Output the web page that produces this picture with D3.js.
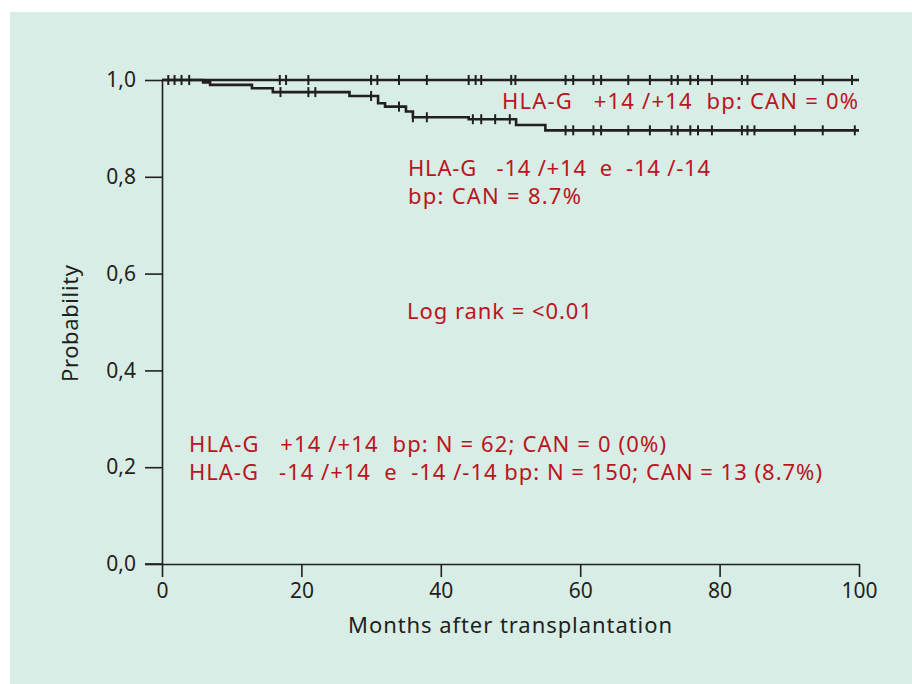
<!DOCTYPE html>
<html>
<head>
<meta charset="utf-8">
<script src="https://cdn.jsdelivr.net/npm/d3@7"></script>
<style>
  body { margin: 0; background: #fff; }
  text { font-family: "Noto Sans", "Open Sans", sans-serif; }
</style>
</head>
<body>
<svg width="912" height="684"></svg>
<script>
// group +14/+14: no events, censor marks (months)
const topSteps = [[0, 1], [100, 1]];
const topCensor = [0.9, 1.8, 2.8, 3.9, 16.9, 17.8, 21, 30, 30.9, 34, 38, 44, 45, 45.8, 50.1, 50.7,
  57.9, 59, 61.9, 63, 66.9, 70, 73.1, 74, 75.8, 76.9, 78.9, 83.2, 84, 90.8, 94.8, 99];

// group -14/+14 e -14/-14: step times and survival
const lowTimes = [0, 5.9, 6.9, 12.9, 15.9, 26.9, 31, 32, 35, 36, 44, 50.8, 55];
const lowSurv  = [1, 0.995, 0.990, 0.983, 0.975, 0.967, 0.952, 0.945, 0.935, 0.923, 0.919, 0.907, 0.896];
const lowCensor = [17, 21, 22, 30, 34, 36, 38, 44.6, 45.8, 47.8, 49.9, 57.9, 59, 61.9, 63, 66.9, 70,
  73.1, 74, 75.8, 76.9, 78.9, 83.2, 84, 85, 90.8, 94.8, 99.4];

const xTicks = [0, 20, 40, 60, 80, 100];
const yTicks = [0, 0.2, 0.4, 0.6, 0.8, 1.0];

const red = '#bb1420', ink = '#231f20';

const svg = d3.select('svg');
svg.append('rect').attr('x', 10).attr('y', 12).attr('width', 902).attr('height', 672)
  .attr('fill', '#d8ede5');

const x = d3.scaleLinear().domain([0, 100]).range([162, 859]);
const y = d3.scaleLinear().domain([0, 1]).range([564, 80]);

// axes
const xAxis = svg.append('g').attr('transform', 'translate(0,564)')
  .call(d3.axisBottom(x).tickValues(xTicks).tickSize(13).tickPadding(6).tickSizeOuter(0));
const yAxis = svg.append('g').attr('transform', 'translate(162,0)')
  .call(d3.axisLeft(y).tickValues(yTicks).tickSize(17).tickPadding(9).tickSizeOuter(0)
    .tickFormat(d => d3.format('.1f')(d).replace('.', ',')));
[xAxis, yAxis].forEach(a => {
  a.select('.domain').attr('stroke', ink).attr('stroke-width', 1.6);
  a.selectAll('.tick line').attr('stroke', ink).attr('stroke-width', 1.6);
  a.selectAll('.tick text').attr('fill', ink).style('font-size', '21px')
    .style('font-family', '"Noto Sans", sans-serif');
});
// extend x axis line under the 0,0 tick
svg.append('line').attr('x1', 145).attr('x2', 162).attr('y1', 564).attr('y2', 564)
  .attr('stroke', ink).attr('stroke-width', 1.6);

svg.append('text').attr('x', 348).attr('y', 633).attr('textLength', 324)
  .attr('fill', ink).style('font-size', '22px').text('Months after transplantation');
svg.append('text').attr('transform', 'translate(78,382) rotate(-90)').attr('textLength', 117)
  .attr('fill', ink).style('font-size', '22px').text('Probability');

// curves
const line = d3.line().x(d => x(d[0])).y(d => y(d[1])).curve(d3.curveStepAfter);
const lowSteps = lowTimes.map((t, i) => [t, lowSurv[i]]).concat([[100, lowSurv[lowSurv.length - 1]]]);

function survAt(steps, t) {
  let s = 1;
  steps.forEach(d => { if (d[0] <= t) s = d[1]; });
  return s;
}

[[lowSteps, lowCensor], [topSteps, topCensor]].forEach(([steps, cens]) => {
  svg.append('path').datum(steps).attr('d', line)
    .attr('fill', 'none').attr('stroke', ink).attr('stroke-width', 2.6);
  svg.append('g').selectAll('line').data(cens).join('line')
    .attr('x1', d => x(d)).attr('x2', d => x(d))
    .attr('y1', d => y(survAt(steps, d)) - 5).attr('y2', d => y(survAt(steps, d)) + 5)
    .attr('stroke', ink).attr('stroke-width', 2);
});

// annotations: x, baseline, width, text
const notes = [
  [502, 109, 356, 'HLA-G   +14 /+14  bp: CAN = 0%'],
  [408, 176, 302, 'HLA-G   -14 /+14  e  -14 /-14'],
  [408, 204, 173, 'bp: CAN = 8.7%'],
  [407, 319, 185, 'Log rank = <0.01'],
  [189, 452, 477, 'HLA-G   +14 /+14  bp: N = 62; CAN = 0 (0%)'],
  [189, 480, 633, 'HLA-G   -14 /+14  e  -14 /-14 bp: N = 150; CAN = 13 (8.7%)']
];
svg.append('g').selectAll('text').data(notes).join('text')
  .attr('x', d => d[0]).attr('y', d => d[1]).attr('textLength', d => d[2])
  .attr('fill', red).style('font-size', '22px').style('white-space', 'pre').text(d => d[3]);
</script>
</body>
</html>
